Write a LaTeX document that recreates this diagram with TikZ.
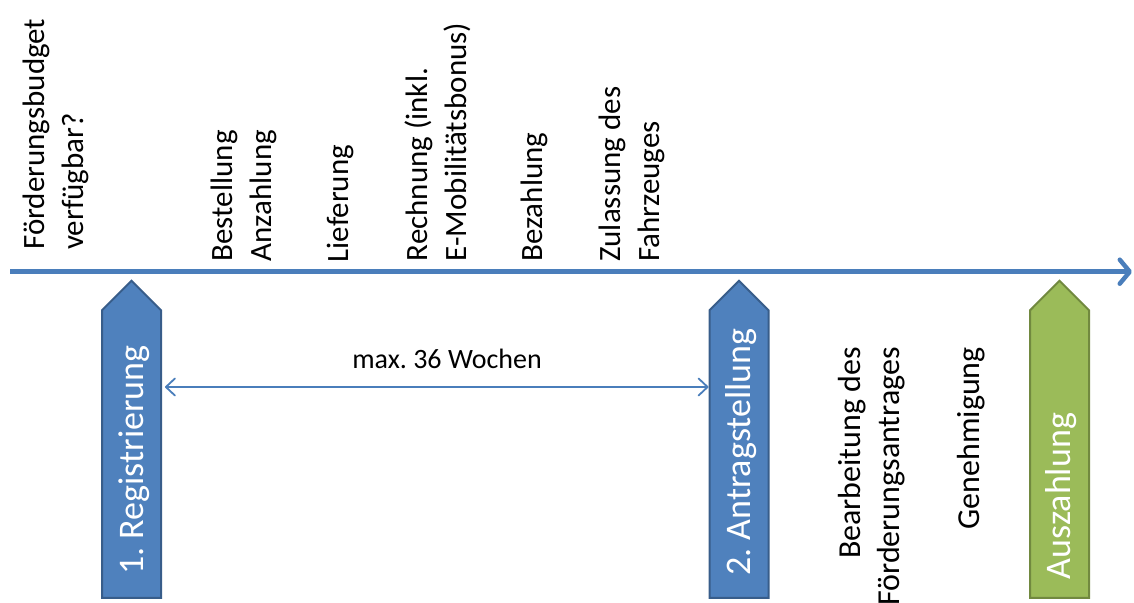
\documentclass[tikz,border=0pt]{standalone}
\usepackage{fontspec}
\setmainfont{Carlito}
\usetikzlibrary{shapes.arrows,arrows.meta}
\definecolor{tlblue}{HTML}{4A7EBB}
\definecolor{boxblue}{HTML}{4F81BD}
\definecolor{boxblueedge}{HTML}{385D8A}
\definecolor{boxgreen}{HTML}{9BBB59}
\definecolor{boxgreenedge}{HTML}{71893F}
\begin{document}
\frenchspacing
\begin{tikzpicture}[x=1pt,y=-1pt,
  phase/.style={shape=single arrow, single arrow head extend=0pt, single arrow tip angle=90,
    minimum width=59pt, minimum height=317pt, inner sep=0pt, rotate=90, line width=2pt, anchor=tip},
  bluephase/.style={phase, fill=boxblue, draw=boxblueedge},
  greenphase/.style={phase, fill=boxgreen, draw=boxgreenedge},
  phasetext/.style={rotate=90, anchor=base west, inner sep=0pt, text=white, font=\fontsize{36}{43}\selectfont\frenchspacing},
  upper/.style={rotate=90, anchor=north west, align=left, inner sep=0pt, font=\fontsize{31}{39}\selectfont\frenchspacing},
  lower/.style={rotate=90, anchor=north east, align=right, inner sep=0pt, font=\fontsize{32}{39}\selectfont\frenchspacing},
  timeline/.style={draw=tlblue, line width=4.5pt, -{Straight Barb[length=10pt,width=24pt,round]}},
  span/.style={draw=tlblue, line width=1.8pt, {Straight Barb[length=9pt,width=17pt,round]}-{Straight Barb[length=9pt,width=17pt,round]}},
  spanlabel/.style={anchor=base, inner sep=0pt, font=\fontsize{28}{34}\selectfont\frenchspacing}
]
\useasboundingbox (0,0) rectangle (1134,602);

% timeline
\coordinate (tlstart) at (10,271.7);
\coordinate (tlend) at (1132,271.7);
\draw[timeline] (tlstart) -- (tlend);

% texts above the timeline
\node[upper] (budget) at (17.2,250) {\strut Förderungsbudget\\verfügbar?};
\node[upper] (bestellung) at (204.7,261.5) {\strut Bestellung\\Anzahlung};
\node[upper] (lieferung) at (321.2,262.5) {\strut Lieferung};
\node[upper] (rechnung) at (399.7,261.5) {\strut Rechnung (inkl.\\E-Mobilitätsbonus)};
\node[upper] (bezahlung) at (514.7,262) {\strut Bezahlung};
\node[upper] (zulassung) at (592.7,262) {\strut Zulassung des\\Fahrzeuges};

% phase arrows
\node[bluephase] (reg) at (131.5,279.4) {};
\node[bluephase] (ant) at (739,279.4) {};
\node[greenphase] (aus) at (1059.5,279.4) {};
\node[phasetext] (regtext) at (143.5,575) {1. Registrierung};
\node[phasetext] (anttext) at (750.5,576) {2. Antragstellung};
\node[phasetext] (austext) at (1070,579.5) {Auszahlung};

% span between registration and application
\coordinate (spany) at (447,387);
\draw[span, shorten <=3pt] (reg.south |- spany) -- (ant.north |- spany);
\node[spanlabel] (spantext) at (447,368) {max. 36 Wochen};

% texts below the timeline
\node[lower] (bearbeitung) at (832.7,347) {\strut Bearbeitung des\\Förderungsantrages};
\node[lower] (genehmigung) at (951.7,347) {\strut Genehmigung};
\end{tikzpicture}
\end{document}
